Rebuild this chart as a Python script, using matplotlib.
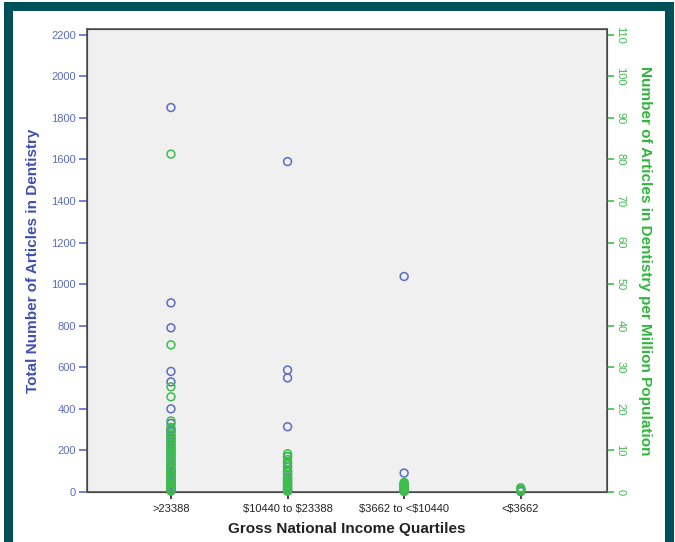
import matplotlib
matplotlib.use('Agg')
import matplotlib.pyplot as plt
from matplotlib.patches import Rectangle

plt.rcParams['font.family'] = ['Liberation Sans', 'DejaVu Sans']
plt.rcParams['text.parse_math'] = False

# Income quartile categories
categories = ['>23388', '$10440 to $23388', '$3662 to <$10440', '<$3662']

# Total number of articles (left axis), per category
total_articles = [
    [1850, 910, 790, 580, 530, 400, 330, 300, 290, 270, 255, 240, 225, 210, 195,
     180, 165, 150, 135, 120, 105, 95, 85, 75, 65, 55, 45, 40, 35, 30, 25, 20, 15, 10, 5],
    [1590, 587, 549, 314, 170, 140, 120, 100, 85, 70, 60, 50, 40, 30, 20, 10, 5],
    [1037, 91, 40, 30, 20, 10, 5],
    [12, 6, 2],
]

# Articles per million population (right axis), per category
per_million = [
    [81.3, 35.4, 25.3, 22.9, 17.1, 15.5, 14.8, 14.0, 13.2, 12.5, 11.8, 11.0, 10.3,
     9.6, 9.0, 8.3, 7.6, 7.0, 6.3, 5.6, 5.0, 4.4, 3.8, 3.2, 2.6, 2.0, 1.5, 1.0, 0.6, 0.3],
    [9.2, 8.6, 7.8, 7.2, 6.6, 6.0, 5.4, 4.8, 4.2, 3.6, 3.0, 2.5, 2.0, 1.6, 1.2, 0.8, 0.5, 0.2],
    [2.3, 1.9, 1.5, 1.1, 0.8, 0.5, 0.3, 0.1],
    [1.0, 0.6, 0.3],
]

blue = '#5b6cc2'
blue_text = '#3e50b0'
green = '#3cbf4a'
green_text = '#2fb53d'

fig = plt.figure(figsize=(6.75, 5.42), dpi=100)
ax = fig.add_axes([0.1289, 0.0923, 0.7704, 0.8542])
ax2 = ax.twinx()

# teal frame around the figure
fig.patches.append(Rectangle((0.0115, -0.05), 0.98, 1.039, transform=fig.transFigure,
                             fill=False, edgecolor='#00505a', linewidth=6.5, zorder=0))

ax.set_facecolor('#f0f0f0')
for i, vals in enumerate(total_articles):
    ax.scatter([i] * len(vals), vals, s=32, facecolors='none', edgecolors=blue,
               linewidths=1.1, clip_on=False, zorder=3)
for i, vals in enumerate(per_million):
    ax2.scatter([i] * len(vals), vals, s=32, facecolors='none', edgecolors=green,
                linewidths=1.1, clip_on=False, zorder=3)

ax.set_xlim(-0.72, 3.74)
ax.set_ylim(0, 2228)
ax2.set_ylim(0, 111.4)

ax.set_xticks(range(len(categories)))
ax.set_xticklabels(categories, fontsize=8)
ax.set_yticks(range(0, 2201, 200))
ax2.set_yticks(range(0, 111, 10))

ax.tick_params(axis='y', colors=blue, labelsize=8, length=6, width=1.2, pad=2)
ax.tick_params(axis='x', colors='#222222', labelsize=8, length=5, width=1.2)
ax2.tick_params(axis='y', colors=green, labelsize=8, length=5, width=1.2,
                labelrotation=-90, pad=1)
for lab in ax2.get_yticklabels():
    lab.set_verticalalignment('center')
    lab.set_horizontalalignment('left')

for sp in ax2.spines.values():
    sp.set_color('#555555')
    sp.set_linewidth(1.2)

ax.set_ylabel('Total Number of Articles in Dentistry', color=blue_text,
              fontsize=11, fontweight='bold', labelpad=8)
ax2.set_ylabel('Number of Articles in Dentistry per Million Population', color=green_text,
               fontsize=11, fontweight='bold', rotation=-90, labelpad=19)
ax.set_xlabel('Gross National Income Quartiles', fontsize=11, fontweight='bold',
              color='#222222', labelpad=6)

fig.savefig('out.png', dpi=100)
